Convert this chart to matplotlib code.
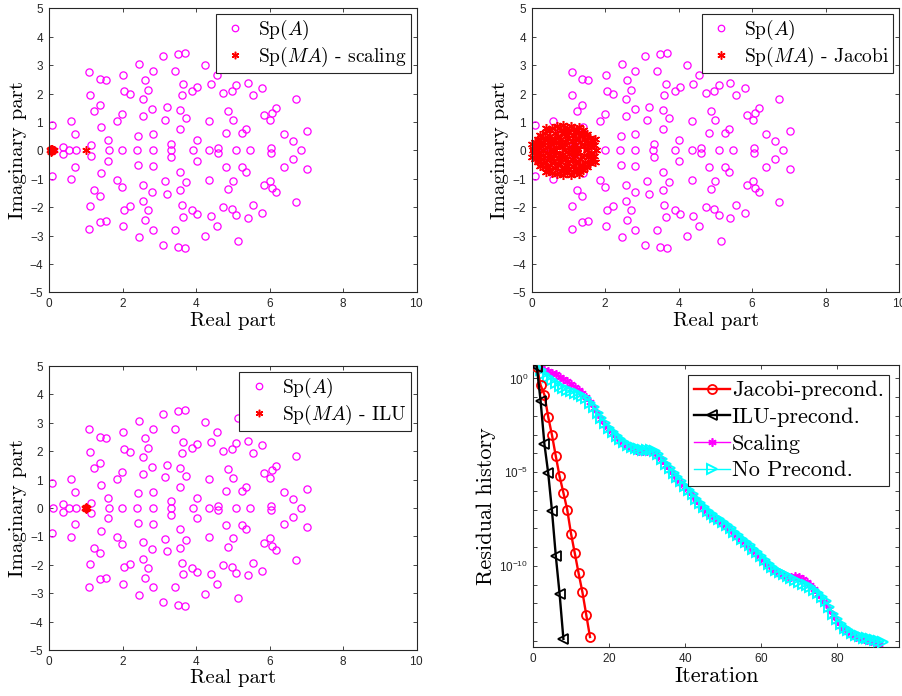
import numpy as np
import matplotlib
matplotlib.use("Agg")
import matplotlib.pyplot as plt
from matplotlib.ticker import FixedLocator, FuncFormatter

plt.rcParams['font.family'] = 'cmr10'
plt.rcParams['mathtext.fontset'] = 'cm'
plt.rcParams['axes.unicode_minus'] = False
plt.rcParams['axes.formatter.use_mathtext'] = True

# eigenvalues of A: upper half-plane (mirrored below) plus the real ones
spA_re_up = [0.08, 0.58, 0.71, 0.37, 1.08, 1.10, 1.37, 1.53, 1.37, 1.23, 1.40, 1.13, 1.60,
             2.01, 2.04, 2.21, 1.98, 1.84, 2.45, 2.60, 2.70, 2.55, 2.56, 2.80, 2.81, 2.41,
             2.81, 3.09, 3.49, 3.68, 3.41, 3.64, 3.60, 3.19, 3.14, 3.57, 3.73, 3.57, 3.32,
             4.01, 3.89, 4.02, 4.23, 4.39, 4.56, 4.35, 4.74, 4.96, 5.08, 4.86, 4.99, 4.81,
             5.25, 5.35, 4.59, 5.40, 5.55, 5.80, 5.85, 6.02, 6.07, 6.18, 6.72, 6.38, 6.62,
             7.02, 6.04, 5.14]
spA_im_up = [0.89, 1.02, 0.58, 0.13, 2.77, 1.96, 2.51, 2.48, 1.60, 1.40, 0.81, 0.19, 0.36,
             2.66, 2.09, 1.97, 1.28, 1.03, 3.05, 2.46, 2.11, 1.80, 1.21, 1.46, 2.79, 0.52,
             0.56, 3.32, 3.40, 3.44, 2.79, 2.34, 1.94, 1.53, 1.08, 1.41, 1.13, 0.75, 0.23,
             0.36, 2.10, 2.24, 3.02, 2.32, 2.66, 1.03, 2.01, 2.08, 2.29, 1.38, 1.07, 0.60,
             0.60, 0.75, 0.08, 2.37, 1.94, 2.21, 1.23, 1.07, 1.33, 1.48, 1.82, 0.58, 0.31,
             0.67, 0.08, 3.18]
spA_re_axis = [0.11, 0.54, 0.73, 1.62, 1.99, 2.40, 2.81, 3.30, 3.90, 4.35, 5.09, 5.47, 6.84]

# preconditioned spectra
scal_re = [0.02, 0.04, 0.04, 0.05, 0.05, 0.07, 0.08, 0.08, 0.10, 0.12, 1.00]
scal_im = [0.00, 0.03, -0.03, 0.06, -0.06, 0.00, 0.03, -0.03, 0.00, 0.00, 0.00]

jac_re_up = [0.05, 0.10, 0.15, 0.20, 0.25, 0.30, 0.30, 0.35, 0.40, 0.42, 0.45, 0.50, 0.52,
             0.55, 0.60, 0.62, 0.65, 0.68, 0.70, 0.72, 0.78, 0.80, 0.82, 0.85, 0.88, 0.90,
             0.95, 0.98, 1.00, 1.02, 1.05, 1.08, 1.12, 1.15, 1.18, 1.20, 1.25, 1.28, 1.30,
             1.35, 1.38, 1.42, 1.45, 1.50, 1.52, 1.58, 1.60, 1.65, 1.70, 0.15, 0.22, 0.38,
             0.58, 0.92, 1.10, 1.40, 0.08, 0.48, 0.75, 1.22, 1.72, 0.00]
jac_im_up = [0.05, 0.15, 0.25, 0.08, 0.30, 0.18, 0.45, 0.60, 0.10, 0.35, 0.70, 0.50, 0.22,
             0.80, 0.38, 0.62, 0.10, 0.85, 0.50, 0.28, 0.72, 0.40, 0.15, 0.88, 0.58, 0.30,
             0.78, 0.45, 0.12, 0.65, 0.86, 0.32, 0.55, 0.75, 0.20, 0.45, 0.62, 0.82, 0.30,
             0.50, 0.70, 0.15, 0.40, 0.58, 0.25, 0.45, 0.10, 0.32, 0.20, 0.40, 0.55, 0.78,
             0.05, 0.66, 0.05, 0.58, 0.30, 0.28, 0.18, 0.08, 0.40, 0.22]
jac_re_axis = [0.02, 0.30, 0.60, 0.90, 1.20, 1.50, 1.75]

ilu_re = [0.97, 1.00, 1.00, 1.03, 1.00]
ilu_im = [0.00, 0.03, -0.03, 0.00, 0.00]

# residual histories (log10 of residual norm)
jac_res = [0.62, -0.36, -0.87, -2.05, -3.03, -4.15, -5.23, -6.10, -7.00, -8.28, -9.33,
           -10.40, -11.40, -12.60, -13.80]
ilu_res = [0.62, -1.20, -3.50, -5.05, -7.08, -9.47, -11.50, -13.90]
scal_res = [0.65, 0.55, 0.45, 0.38, 0.30, 0.22, 0.10, -0.02, -0.15, -0.28, -0.45, -0.60,
            -0.80, -1.00, -1.28, -1.60, -1.92, -2.18, -2.48, -2.70, -2.92, -3.12, -3.32,
            -3.48, -3.62, -3.72, -3.80, -3.86, -3.88, -3.88, -3.90, -3.98, -4.13, -4.38,
            -4.63, -4.88, -5.13, -5.36, -5.58, -5.80, -6.03, -6.26, -6.50, -6.73, -6.96,
            -7.16, -7.34, -7.50, -7.62, -7.75, -7.92, -8.10, -8.30, -8.48, -8.65, -8.82,
            -9.00, -9.18, -9.38, -9.58, -9.78, -9.98, -10.15, -10.30, -10.42, -10.52,
            -10.58, -10.60, -10.55, -10.62, -10.72, -10.86, -11.02, -11.22, -11.52, -11.75,
            -12.00, -12.30, -12.65, -12.95, -13.20, -13.40, -13.55, -13.68, -13.78, -13.86,
            -13.93, -13.98, -14.02, -14.08, -14.15]
noprec_res = [0.65, 0.45, 0.25, 0.05, -0.08, -0.25, -0.38, -0.50, -0.62, -0.68, -0.76,
              -0.82, -0.92, -1.05, -1.30, -1.55, -1.85, -2.10, -2.40, -2.62, -2.85, -3.05,
              -3.25, -3.42, -3.55, -3.65, -3.72, -3.78, -3.80, -3.80, -3.82, -3.90, -4.05,
              -4.30, -4.55, -4.80, -5.05, -5.28, -5.50, -5.72, -5.95, -6.18, -6.42, -6.65,
              -6.88, -7.08, -7.25, -7.40, -7.52, -7.65, -7.82, -8.00, -8.20, -8.38, -8.55,
              -8.72, -8.90, -9.08, -9.28, -9.48, -9.68, -9.88, -10.05, -10.20, -10.32,
              -10.45, -10.55, -10.65, -10.75, -10.85, -10.95, -11.05, -11.15, -11.28, -11.45,
              -11.65, -11.90, -12.20, -12.55, -12.85, -13.10, -13.30, -13.45, -13.58, -13.68,
              -13.76, -13.83, -13.88, -13.92, -13.95, -14.00, -14.08]

AXC = '#262626'
TICKFONT = 'Liberation Sans'
ASTER = (6, 2, 0)


def full_spectrum(re_up, im_up, re_axis):
    re = np.concatenate([re_up, re_up, re_axis])
    im = np.concatenate([im_up, -np.array(im_up), np.zeros(len(re_axis))])
    return re, im


def style_axes(ax):
    for s in ax.spines.values():
        s.set_color(AXC)
        s.set_linewidth(0.8)
    ax.tick_params(direction='in', top=True, right=True, length=3, width=0.6,
                   colors=AXC, labelsize=8.5, labelfontfamily=TICKFONT)


def spectrum_panel(ax, re_pre, im_pre, name, pre_ms):
    re, im = full_spectrum(spA_re_up, spA_im_up, spA_re_axis)
    ax.plot(re, im, 'o', color='magenta', mfc='none', ms=5.2, mew=0.9,
            label=r'$\mathrm{Sp}(A)$')
    ax.plot(re_pre, im_pre, ls='none', marker=ASTER, color='red', ms=pre_ms, mew=1.1,
            label=r'$\mathrm{Sp}(MA)$ - ' + name, clip_on=False)
    ax.set_xlim(0, 10)
    ax.set_ylim(-5, 5)
    ax.set_xticks(range(0, 11, 2))
    ax.set_yticks(range(-5, 6))
    ax.set_xlabel('Real part', fontsize=15, labelpad=1)
    ax.set_ylabel('Imaginary part', fontsize=15, labelpad=2)
    style_axes(ax)
    leg = ax.legend(loc='upper right', fontsize=14, fancybox=False, framealpha=1,
                    edgecolor=AXC, borderaxespad=0.3, labelspacing=0.15,
                    handletextpad=0.4, borderpad=0.2, handlelength=1.6,
                    markerscale=0.9)
    leg.get_frame().set_linewidth(0.8)


fig = plt.figure(figsize=(9.03, 6.96), dpi=100)
W, H = 903, 696


def add_axes_px(left, top, right, bottom):
    return fig.add_axes([left / W, 1 - bottom / H, (right - left) / W, (bottom - top) / H])


ax1 = add_axes_px(49.3, 8.3, 416.7, 292.3)
ax2 = add_axes_px(532.0, 8.3, 899.3, 292.3)
ax3 = add_axes_px(49.3, 366.0, 416.7, 650.0)
ax4 = add_axes_px(533.0, 365.3, 899.3, 647.3)

spectrum_panel(ax1, scal_re, scal_im, 'scaling', 6)
jre, jim = full_spectrum(jac_re_up, jac_im_up, jac_re_axis)
spectrum_panel(ax2, jre, jim, 'Jacobi', 6.5)
spectrum_panel(ax3, ilu_re, ilu_im, 'ILU', 6)

# convergence histories
it_jac = np.arange(1, len(jac_res) + 1)
it_ilu = np.arange(1, len(ilu_res) + 1)
it_scal = np.arange(1, len(scal_res) + 1)
it_np = np.arange(1, len(noprec_res) + 1)

ax4.semilogy(it_jac, 10.0 ** np.array(jac_res), '-o', color='red', mfc='none', ms=6.5,
             mew=1.3, lw=1.7, label='Jacobi-precond.', zorder=4)
ax4.semilogy(it_ilu, 10.0 ** np.array(ilu_res), '-<', color='black', mfc='none', ms=6.5,
             mew=1.3, lw=1.7, label='ILU-precond.', zorder=4)
ax4.semilogy(it_scal, 10.0 ** np.array(scal_res), '-', marker=ASTER, color='magenta',
             ms=6, mew=1.2, lw=1.0, label='Scaling', zorder=2)
ax4.semilogy(it_np, 10.0 ** np.array(noprec_res), '->', color='cyan', mfc='none', ms=7,
             mew=1.4, lw=1.0, label='No Precond.', zorder=3)
ax4.set_xlim(0, 96.4)
ax4.set_ylim(10 ** -14.35, 10 ** 0.70)
ax4.set_xticks(range(0, 81, 20))
ax4.yaxis.set_major_locator(FixedLocator([10.0 ** k for k in range(-14, 1)]))
ax4.yaxis.set_minor_locator(FixedLocator([]))


def decade_label(v, pos):
    k = int(round(np.log10(v)))
    if k in (0, -5, -10):
        return r'$\mathdefault{10^{%d}}$' % k
    return ''


ax4.yaxis.set_major_formatter(FuncFormatter(decade_label))
ax4.set_xlabel('Iteration', fontsize=16, labelpad=1)
ax4.set_ylabel('Residual history', fontsize=16, labelpad=2)
style_axes(ax4)
leg = ax4.legend(loc='upper right', fontsize=16, fancybox=False, framealpha=1,
                 edgecolor=AXC, borderaxespad=0.45, labelspacing=0.32,
                 handletextpad=0.1, borderpad=0.25, handlelength=1.6)
leg.get_frame().set_linewidth(0.8)

fig.savefig('out.png', dpi=100)
